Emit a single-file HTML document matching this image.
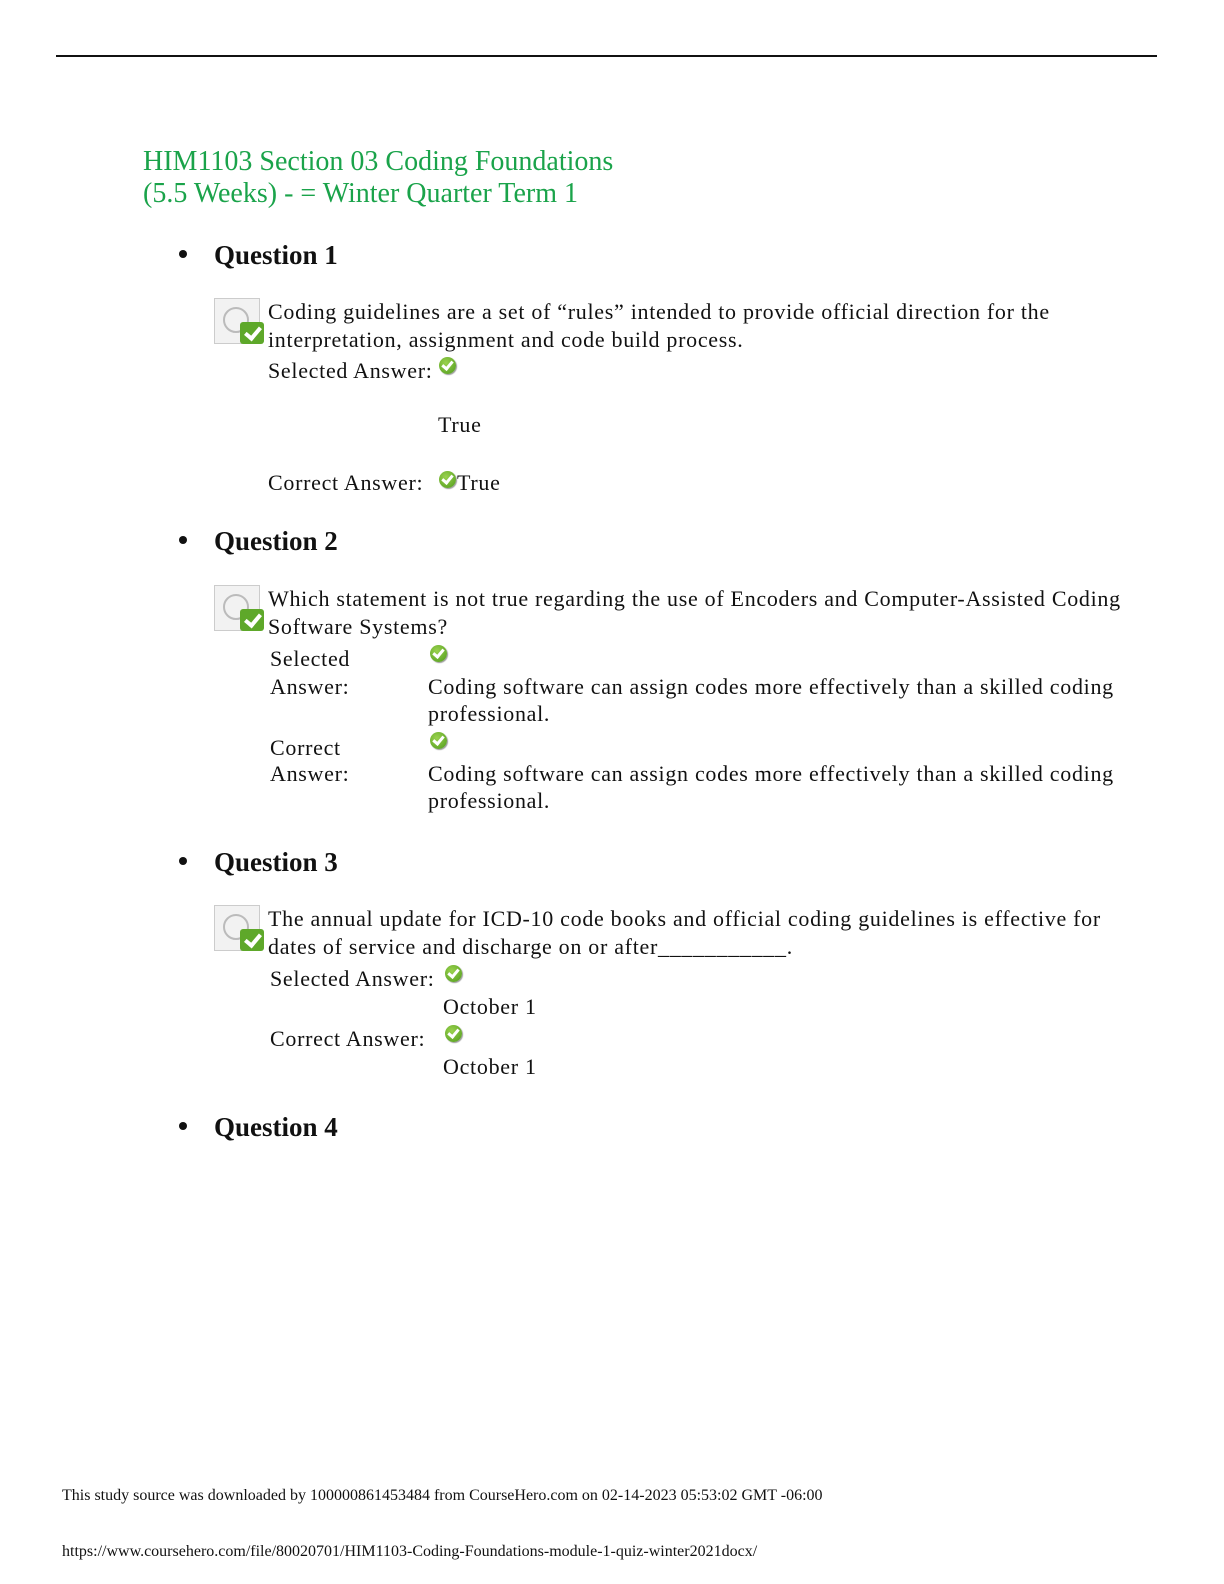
<!DOCTYPE html>
<html><head><meta charset="utf-8"><style>
body{margin:0;width:1224px;height:1584px;background:#fff;position:relative;font-family:"Liberation Serif",serif;color:#111;overflow:hidden}
.t{position:absolute;white-space:nowrap;font-size:22px;letter-spacing:0.7px;line-height:24px}
.h{position:absolute;white-space:nowrap;font-size:27px;font-weight:bold;line-height:30px}
.g{position:absolute;white-space:nowrap;font-size:28px;line-height:32px;color:#1aa34a}
.b{position:absolute;width:8px;height:8px;border-radius:50%;background:#111}
.ck{position:absolute;width:17px;height:17px;border-radius:50%;background:radial-gradient(circle at 40% 35%,#9ad24e,#4f9a1c);box-shadow:1px 1px 1px #999}
.ck:after{content:"";position:absolute;left:5px;top:2px;width:4px;height:8px;border:solid #fff;border-width:0 3px 3px 0;transform:rotate(40deg)}
.ic{position:absolute;width:50px;height:48px}
.ic .d{position:absolute;left:0;top:0;width:44px;height:44px;background:#f2f2f2;border:1px solid #ccc}
.ic .d:before{content:"";position:absolute;left:8px;top:8px;width:22px;height:22px;border:2px solid #bbb;border-radius:50%}
.ic .s{position:absolute;left:26px;top:24px;width:24px;height:22px;background:#5ea82a;border-radius:3px}
.ic .s:after{content:"";position:absolute;left:8px;top:2px;width:6px;height:12px;border:solid #fff;border-width:0 4px 4px 0;transform:rotate(40deg)}
.f{position:absolute;white-space:nowrap;font-size:16px;line-height:18px}
</style></head><body>
<div style="position:absolute;left:56px;top:55px;width:1101px;height:2px;background:#111"></div>
<div class="g" style="left:143px;top:146px">HIM1103 Section 03 Coding Foundations</div>
<div class="g" style="left:143px;top:178px">(5.5 Weeks) - = Winter Quarter Term 1</div>

<div class="b" style="left:179px;top:250px"></div>
<div class="h" style="left:214px;top:240px">Question 1</div>
<div class="ic" style="left:214px;top:298px"><div class="d"></div><div class="s"></div></div>
<div class="t" style="left:268px;top:300px">Coding guidelines are a set of “rules” intended to provide official direction for the</div>
<div class="t" style="left:268px;top:328px">interpretation, assignment and code build process.</div>
<div class="t" style="left:268px;top:359px">Selected Answer:</div><div class="ck" style="left:439px;top:357px"></div>
<div class="t" style="left:438px;top:413px">True</div>
<div class="t" style="left:268px;top:471px">Correct Answer:</div><div class="ck" style="left:439px;top:471px"></div>
<div class="t" style="left:457px;top:471px">True</div>

<div class="b" style="left:179px;top:536px"></div>
<div class="h" style="left:214px;top:526px">Question 2</div>
<div class="ic" style="left:214px;top:585px"><div class="d"></div><div class="s"></div></div>
<div class="t" style="left:268px;top:587px">Which statement is not true regarding the use of Encoders and Computer-Assisted Coding</div>
<div class="t" style="left:268px;top:615px">Software Systems?</div>
<div class="t" style="left:270px;top:647px">Selected</div><div class="ck" style="left:430px;top:645px"></div>
<div class="t" style="left:270px;top:675px">Answer:</div>
<div class="t" style="left:428px;top:675px">Coding software can assign codes more effectively than a skilled coding</div>
<div class="t" style="left:428px;top:702px">professional.</div>
<div class="t" style="left:270px;top:736px">Correct</div><div class="ck" style="left:430px;top:732px"></div>
<div class="t" style="left:270px;top:762px">Answer:</div>
<div class="t" style="left:428px;top:762px">Coding software can assign codes more effectively than a skilled coding</div>
<div class="t" style="left:428px;top:789px">professional.</div>

<div class="b" style="left:179px;top:857px"></div>
<div class="h" style="left:214px;top:847px">Question 3</div>
<div class="ic" style="left:214px;top:905px"><div class="d"></div><div class="s"></div></div>
<div class="t" style="left:268px;top:907px">The annual update for ICD-10 code books and official coding guidelines is effective for</div>
<div class="t" style="left:268px;top:935px">dates of service and discharge on or after___________.</div>
<div class="t" style="left:270px;top:967px">Selected Answer:</div><div class="ck" style="left:445px;top:965px"></div>
<div class="t" style="left:443px;top:995px">October 1</div>
<div class="t" style="left:270px;top:1027px">Correct Answer:</div><div class="ck" style="left:445px;top:1025px"></div>
<div class="t" style="left:443px;top:1055px">October 1</div>

<div class="b" style="left:179px;top:1122px"></div>
<div class="h" style="left:214px;top:1112px">Question 4</div>

<div class="f" style="left:62px;top:1487px">This study source was downloaded by 100000861453484 from CourseHero.com on 02-14-2023 05:53:02 GMT -06:00</div>
<div class="f" style="left:62px;top:1543px">https://www.coursehero.com/file/80020701/HIM1103-Coding-Foundations-module-1-quiz-winter2021docx/</div>
</body></html>
